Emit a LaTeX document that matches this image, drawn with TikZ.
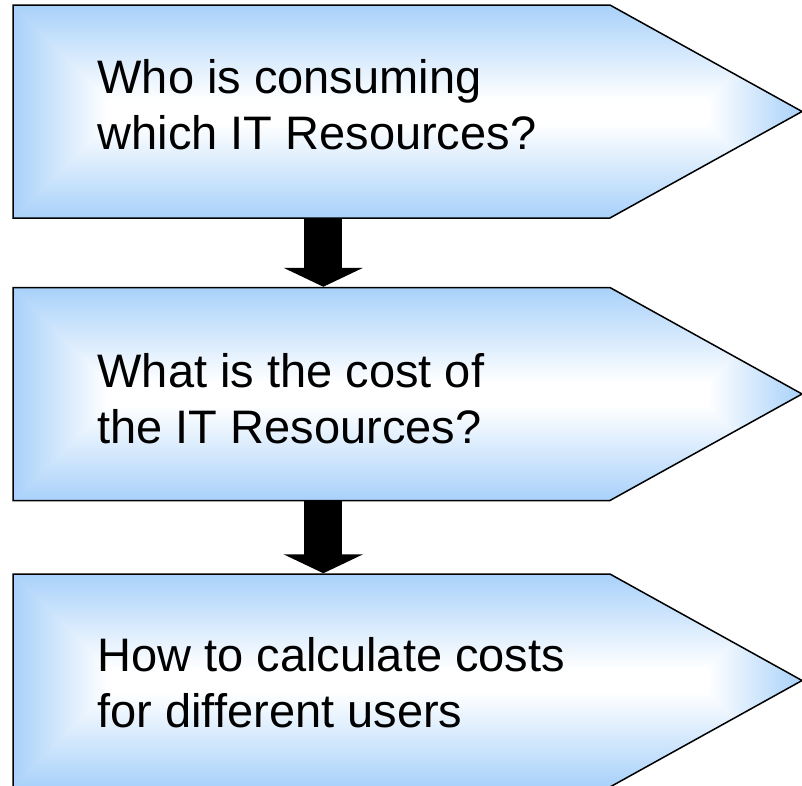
\documentclass[tikz,border=0pt]{standalone}
\usepackage{fontspec}
\setmainfont{Liberation Sans}
\usetikzlibrary{shapes.symbols,arrows.meta,positioning}

% light blue edges, white middle
\pgfdeclarefunctionalshading{boxfade}{\pgfpoint{-50bp}{-50bp}}{\pgfpoint{50bp}{50bp}}{}{
  abs 25 exch sub 4.26 mul exch abs 25 exch sub 15.78 mul
  2 copy gt {exch} if pop
  95 div 1 exch sub dup 0 lt {pop 0} if dup 1 gt {pop 1} if
  dup 0.34 mul 1 exch sub exch
  dup 0.18 mul 1 exch sub exch
  0.02 mul 1 exch sub
}

\tikzset{
  stage/.style={signal, signal to=east, signal pointer angle=58, draw=black, line width=1.5pt,
    minimum width=789pt, minimum height=213pt, inner sep=0pt, shading=boxfade},
  stagetext/.style={anchor=west, align=left, inner sep=0pt, font=\fontsize{47}{56}\selectfont},
  blockarrow/.style={-{Triangle[width=79pt,length=19pt]}, line width=38pt, black}
}

\begin{document}
\begin{tikzpicture}
    \useasboundingbox (0pt,0pt) rectangle (802pt,-785pt);
    % Stages
    \node[stage] (ask) at (311.5pt,-111.5pt) {};
    \node[stage, below=68pt of ask] (cost) {};
    \node[stage, below=72pt of cost] (split) {};

    % Texts
    \node[stagetext] (asktext) at ([xshift=85pt,yshift=7pt]ask.west) {Who is consuming\\which IT Resources?};
    \node[stagetext] (costtext) at ([xshift=85pt,yshift=-5pt]cost.west) {What is the cost of\\the IT Resources?};
    \node[stagetext] (splittext) at ([xshift=85pt,yshift=-2pt]split.west) {How to calculate costs\\for different users};

    % Arrows
    \draw[blockarrow] ([xshift=311pt]ask.south west) -- ([xshift=311pt]cost.north west);
    \draw[blockarrow] ([xshift=311pt]cost.south west) -- ([xshift=311pt]split.north west);
\end{tikzpicture}
\end{document}
